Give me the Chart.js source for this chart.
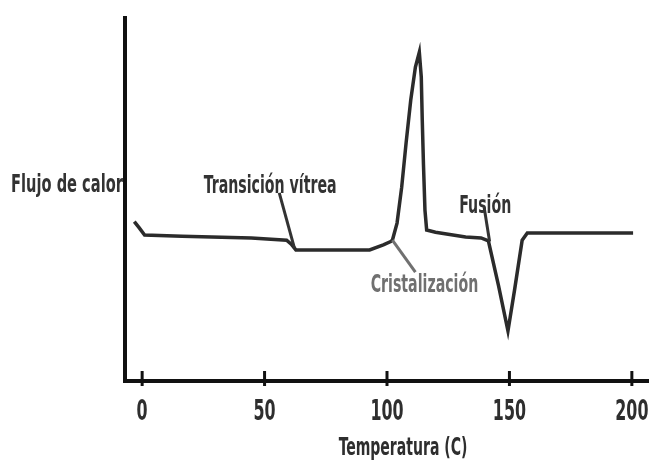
<!DOCTYPE html>
<html>
<head>
<meta charset="utf-8">
<script src="https://cdn.jsdelivr.net/npm/chart.js@4.4.0/dist/chart.umd.min.js"></script>
<style>
  html, body { margin: 0; padding: 0; background: #ffffff; }
  #wrap { width: 649px; height: 461px; }
</style>
</head>
<body>
<div id="wrap"><canvas id="dsc" width="649" height="461"></canvas></div>
<script>
// DSC thermogram: heat flow (arbitrary units) against temperature in °C
const temperature = [-3.2, -1.1, 1.0, 16.3, 44.6, 59.0, 60.9, 62.8, 92.9, 98.5,
  101.5, 102.2, 104.1, 106.0, 107.8, 109.7, 111.6, 113.2, 114.0, 114.4,
  114.9, 115.5, 116.2, 119.8, 132.1, 138.4, 141.4, 145.5, 149.4, 152.1,
  155.2, 157.3, 200.5];
const heatFlow = [43.9, 42.1, 40.2, 39.9, 39.4, 38.8, 37.7, 36.1, 36.1, 37.5,
  38.4, 38.8, 43.5, 53.4, 65.6, 77.4, 86.5, 90.6, 83.7, 71.9,
  59.5, 47.1, 41.6, 41.0, 39.7, 39.4, 38.6, 26.4, 13.8, 25.1,
  38.8, 40.8, 40.8];

const xTickValues = [0, 50, 100, 150, 200];
const xTickLabels = ['0', '50', '100', '150', '200'];
const xAxisTitle = 'Temperatura (C)';
const yAxisTitle = 'Flujo de calor';

// Callouts: text, text baseline centre (°C, heat flow), leader start, leader end on the curve
const calloutText = ['Transición vítrea', 'Cristalización', 'Fusión'];
const calloutLabelAt = [[52.3, 51.7], [115.3, 24.5], [140.1, 46.3]];
const calloutLeaderFrom = [[56.0, 51.8], [111.6, 30.0], [139.7, 47.7]];
const calloutLeaderTo = [[62.2, 36.6], [102.2, 38.8], [141.9, 38.4]];
const calloutColor = ['#333333', '#707070', '#333333'];

const FONT = "'DejaVu Sans Condensed', 'Liberation Sans Narrow', sans-serif";

// bold, horizontally compressed text centred on cx with its baseline at y
function drawNarrowText(ctx, text, cx, baseline, size, squeeze, color) {
  ctx.save();
  ctx.translate(cx, baseline);
  ctx.scale(squeeze, 1);
  ctx.font = 'bold ' + size + 'px ' + FONT;
  ctx.textAlign = 'center';
  ctx.textBaseline = 'alphabetic';
  ctx.fillStyle = color;
  ctx.fillText(text, 0, 0);
  ctx.restore();
}

const annotationsPlugin = {
  id: 'dscAnnotations',
  afterDraw(chart) {
    const { ctx, chartArea, scales } = chart;
    const x = scales.x, y = scales.y;
    ctx.save();

    // tick marks crossing the temperature axis
    ctx.strokeStyle = '#111111';
    ctx.lineWidth = 3;
    xTickValues.forEach(v => {
      const px = x.getPixelForValue(v);
      ctx.beginPath();
      ctx.moveTo(px, chartArea.bottom - 10);
      ctx.lineTo(px, chartArea.bottom + 5);
      ctx.stroke();
    });

    // tick labels
    xTickValues.forEach((v, i) => {
      drawNarrowText(ctx, xTickLabels[i], x.getPixelForValue(v), chartArea.bottom + 39, 28, 0.63, '#2e2e2e');
    });

    // axis titles
    drawNarrowText(ctx, xAxisTitle, (chartArea.left + chartArea.right) / 2 + 16, chartArea.bottom + 74, 24, 0.65, '#2e2e2e');
    drawNarrowText(ctx, yAxisTitle, chartArea.left - 58, y.getPixelForValue(52.1), 25, 0.65, '#333333');

    // callouts with leader lines
    calloutText.forEach((t, i) => {
      ctx.strokeStyle = calloutColor[i];
      ctx.lineWidth = 3;
      ctx.beginPath();
      ctx.moveTo(x.getPixelForValue(calloutLeaderFrom[i][0]), y.getPixelForValue(calloutLeaderFrom[i][1]));
      ctx.lineTo(x.getPixelForValue(calloutLeaderTo[i][0]), y.getPixelForValue(calloutLeaderTo[i][1]));
      ctx.stroke();
      drawNarrowText(ctx, t, x.getPixelForValue(calloutLabelAt[i][0]), y.getPixelForValue(calloutLabelAt[i][1]), 25, 0.63, calloutColor[i]);
    });

    ctx.restore();
  }
};

new Chart(document.getElementById('dsc'), {
  type: 'line',
  data: {
    datasets: [{
      data: temperature.map((t, i) => ({ x: t, y: heatFlow[i] })),
      borderColor: '#2b2b2b',
      borderWidth: 3.5,
      pointRadius: 0,
      tension: 0,
      fill: false
    }]
  },
  options: {
    responsive: false,
    animation: false,
    devicePixelRatio: 1,
    layout: { padding: { left: 125, top: 18, right: 0, bottom: 80 } },
    plugins: { legend: { display: false }, tooltip: { enabled: false } },
    scales: {
      x: {
        type: 'linear',
        min: -7,
        max: 207,
        afterBuildTicks: s => { s.ticks = xTickValues.map(v => ({ value: v })); },
        ticks: { display: false },
        grid: { drawOnChartArea: false, drawTicks: false },
        border: { display: true, width: 4, color: '#111111' }
      },
      y: {
        type: 'linear',
        min: 0,
        max: 100,
        ticks: { display: false },
        grid: { drawOnChartArea: false, drawTicks: false },
        border: { display: true, width: 4, color: '#111111' }
      }
    }
  },
  plugins: [annotationsPlugin]
});
</script>
</body>
</html>
